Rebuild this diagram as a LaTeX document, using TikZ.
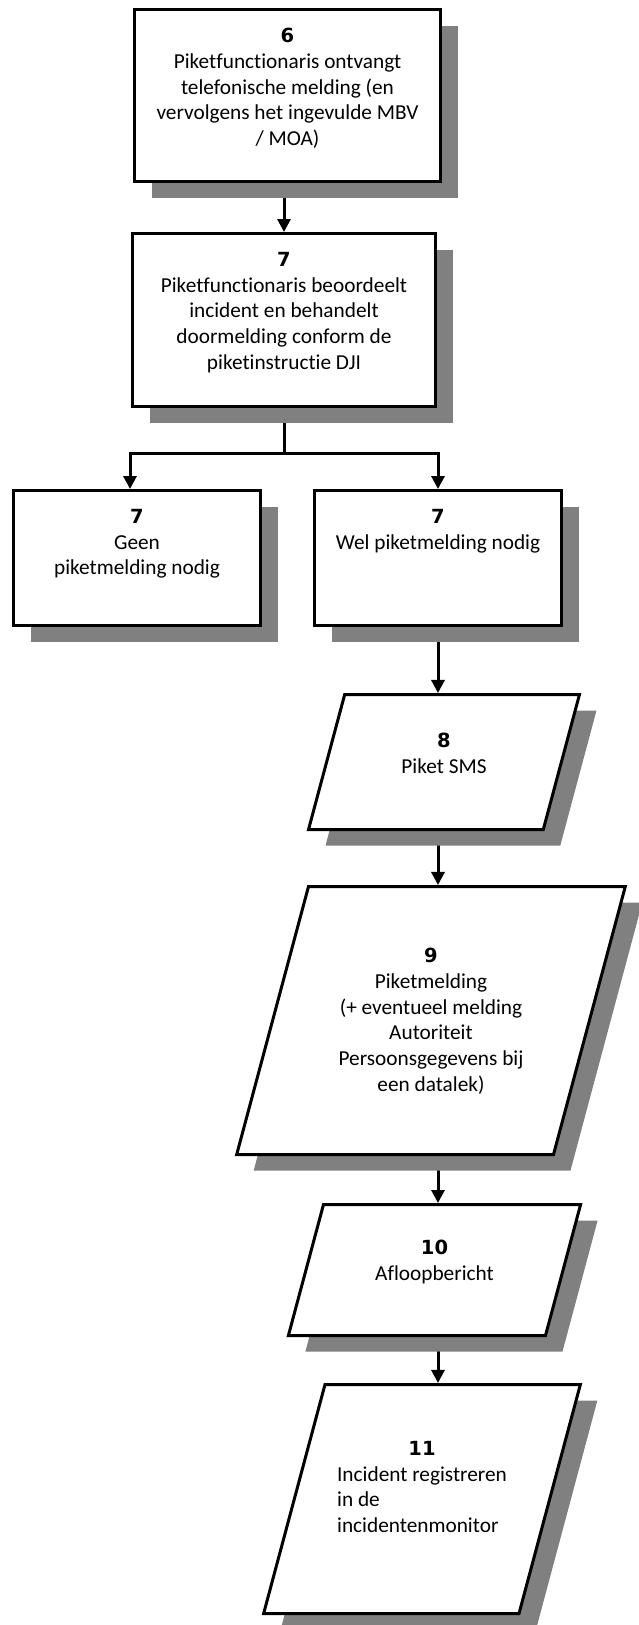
\documentclass[tikz,border=0pt]{standalone}
\usepackage{fontspec}
\setmainfont{Carlito}[Ligatures=NoCommon]
\newfontfamily\numfamily{DejaVu Sans}
\usetikzlibrary{shapes.geometric,shadows,arrows.meta,backgrounds}
\newcommand{\nr}[1]{{\numfamily\bfseries\fontsize{19.5}{25.8}\selectfont #1}}
\newcommand{\bxt}[4]{\parbox[c][#2][t]{#1}{\centering\vspace*{#3}#4}}
\begin{document}
\begin{tikzpicture}[x=1pt,y=-1pt,
  txt/.style={font=\fontsize{21.3}{25.8}\selectfont},
  shapebase/.style={txt, draw=black, line width=3pt, fill=white, inner sep=0pt,
    drop shadow={shadow xshift=17pt, shadow yshift=-16pt, fill=black!50, opacity=1}},
  rectbox/.style={shapebase, rectangle},
  parabox/.style={shapebase, trapezium, trapezium left angle=75, trapezium right angle=105},
  conn/.style={line width=3pt, -{Triangle[length=13pt,width=13pt]}},
  plain/.style={line width=3pt},
]
\useasboundingbox (0,0) rectangle (639,1625);

\node[rectbox] (b6) at (287.5,95.5)
  {\bxt{306pt}{172pt}{18.5pt}{\nr{6}\\Piketfunctionaris ontvangt\\telefonische melding (en\\vervolgens het ingevulde MBV\\/ MOA)}};
\node[rectbox] (b7) at (284,320)
  {\bxt{303pt}{173pt}{18.5pt}{\nr{7}\\Piketfunctionaris beoordeelt\\incident en behandelt\\doormelding conform de\\piketinstructie DJI}};
\node[rectbox] (geen) at (137,558)
  {\bxt{247pt}{135pt}{18.5pt}{\nr{7}\\Geen\\piketmelding nodig}};
\node[rectbox] (wel) at (438,558)
  {\bxt{247pt}{135pt}{18.5pt}{\nr{7}\\Wel piketmelding nodig}};
\node[parabox] (p8) at (444,762)
  {\bxt{198.6pt}{135pt}{38.5pt}{\nr{8}\\Piket SMS}};
\node[parabox] (p9) at (431,1020.5)
  {\bxt{245pt}{268pt}{61.5pt}{\nr{9}\hspace*{20pt}\\Piketmelding\\(+ eventueel melding\\Autoriteit\\Persoonsgegevens bij\\een datalek)}};
\node[parabox] (p10) at (434.5,1270)
  {\bxt{222pt}{131pt}{35.5pt}{\nr{10}\\Afloopbericht}};
\node[parabox] (p11) at (422,1499)
  {\bxt{194pt}{229pt}{56.5pt}{\nr{11}\\\begin{tabular}[t]{@{}l@{}}Incident registreren\\in de\\incidentenmonitor\end{tabular}}};

\coordinate (jn) at (284,453);
\begin{scope}[on background layer]
  \fill[white] (0,0) rectangle (639,1625);
  \draw[conn] (b6.south -| b7.north) -- (b7.north);
  \draw[plain] (b7.south) -- (jn);
  \draw[conn] (jn) -| ([xshift=-7pt]geen.north);
  \draw[conn] (jn) -| (wel.north);
  \draw[conn] (wel.south) -- (wel.south |- p8.north);
  \draw[conn] (p8.south -| wel.south) -- (wel.south |- p9.north);
  \draw[conn] (p9.south -| wel.south) -- (wel.south |- p10.north);
  \draw[conn] (p10.south -| wel.south) -- (wel.south |- p11.north);
\end{scope}
\end{tikzpicture}
\end{document}
